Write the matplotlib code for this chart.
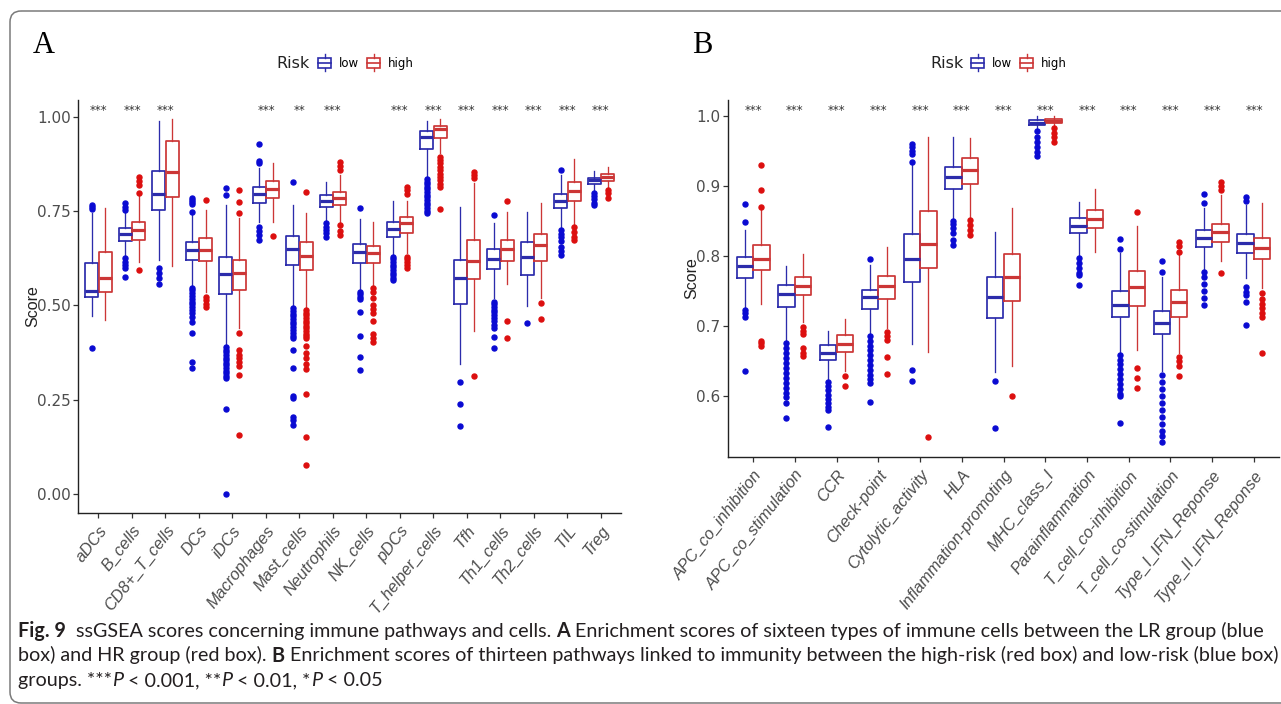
import matplotlib
matplotlib.use("Agg")
import matplotlib.pyplot as plt
from matplotlib.patches import Rectangle, FancyBboxPatch
from matplotlib.lines import Line2D
from matplotlib.legend_handler import HandlerBase

# ---------------- data ----------------
cats_A = ["aDCs", "B_cells", "CD8+_T_cells", "DCs", "iDCs", "Macrophages", "Mast_cells",
          "Neutrophils", "NK_cells", "pDCs", "T_helper_cells", "Tfh", "Th1_cells",
          "Th2_cells", "TIL", "Treg"]
sig_A = ["***", "***", "***", "", "", "***", "**", "***", "", "***", "***", "***", "***",
         "***", "***", "***"]

A_low_whislo = [0.473, 0.631, 0.620, 0.554, 0.395, 0.722, 0.496, 0.722, 0.543, 0.633, 0.838, 0.346, 0.519, 0.499, 0.706, 0.806]
A_low_q1     = [0.521, 0.671, 0.753, 0.620, 0.531, 0.770, 0.607, 0.760, 0.611, 0.682, 0.913, 0.503, 0.596, 0.580, 0.757, 0.822]
A_low_med    = [0.539, 0.688, 0.794, 0.646, 0.582, 0.794, 0.650, 0.776, 0.642, 0.702, 0.945, 0.572, 0.622, 0.628, 0.776, 0.831]
A_low_q3     = [0.611, 0.704, 0.856, 0.669, 0.629, 0.814, 0.685, 0.792, 0.662, 0.722, 0.962, 0.620, 0.649, 0.667, 0.795, 0.838]
A_low_whishi = [0.745, 0.748, 0.988, 0.739, 0.766, 0.863, 0.766, 0.826, 0.729, 0.776, 0.989, 0.761, 0.717, 0.748, 0.845, 0.856]
A_low_out = [
    [0.765, 0.760, 0.755, 0.388],
    [0.770, 0.761, 0.753, 0.626, 0.616, 0.607, 0.598, 0.576],
    [0.598, 0.585, 0.572, 0.558],
    [0.784, 0.778, 0.773, 0.768, 0.748, 0.547, 0.540, 0.532, 0.525, 0.518, 0.510, 0.503, 0.496, 0.488, 0.480, 0.470, 0.457, 0.426, 0.351, 0.333],
    [0.812, 0.792, 0.390, 0.383, 0.376, 0.369, 0.362, 0.355, 0.348, 0.341, 0.334, 0.327, 0.320, 0.313, 0.307, 0.225, 0.000],
    [0.927, 0.882, 0.876, 0.708, 0.697, 0.686, 0.673],
    [0.826, 0.492, 0.485, 0.478, 0.471, 0.464, 0.457, 0.450, 0.443, 0.436, 0.428, 0.420, 0.413, 0.382, 0.333, 0.260, 0.256, 0.205, 0.196, 0.183],
    [0.717, 0.708, 0.700, 0.691, 0.682],
    [0.757, 0.536, 0.530, 0.523, 0.517, 0.483, 0.420, 0.364, 0.330],
    [0.629, 0.622, 0.615, 0.608, 0.601, 0.594, 0.587, 0.580, 0.573, 0.567],
    [0.835, 0.828, 0.821, 0.814, 0.807, 0.800, 0.793, 0.786, 0.779, 0.772, 0.765, 0.758, 0.751, 0.744],
    [0.296, 0.239, 0.181],
    [0.739, 0.510, 0.503, 0.496, 0.489, 0.482, 0.475, 0.466, 0.458, 0.447, 0.439, 0.417, 0.386],
    [0.454],
    [0.859, 0.700, 0.690, 0.680, 0.670, 0.655, 0.645, 0.633],
    [0.799, 0.790, 0.781, 0.772, 0.766],
]

A_high_whislo = [0.461, 0.616, 0.605, 0.536, 0.439, 0.722, 0.492, 0.722, 0.552, 0.638, 0.903, 0.432, 0.557, 0.519, 0.713, 0.810]
A_high_q1     = [0.536, 0.672, 0.786, 0.618, 0.542, 0.785, 0.594, 0.766, 0.612, 0.693, 0.944, 0.569, 0.618, 0.617, 0.777, 0.830]
A_high_med    = [0.572, 0.700, 0.852, 0.648, 0.587, 0.807, 0.631, 0.785, 0.640, 0.717, 0.966, 0.617, 0.649, 0.660, 0.804, 0.840]
A_high_q3     = [0.642, 0.720, 0.935, 0.679, 0.620, 0.830, 0.667, 0.801, 0.658, 0.733, 0.976, 0.673, 0.673, 0.689, 0.828, 0.847]
A_high_whishi = [0.757, 0.792, 0.994, 0.753, 0.731, 0.876, 0.744, 0.845, 0.722, 0.776, 0.994, 0.823, 0.748, 0.770, 0.887, 0.867]
A_high_out = [
    [],
    [0.841, 0.830, 0.819, 0.797, 0.594],
    [],
    [0.779, 0.523, 0.514, 0.505, 0.496],
    [0.806, 0.773, 0.744, 0.426, 0.382, 0.368, 0.360, 0.351, 0.340, 0.317, 0.156],
    [0.684],
    [0.801, 0.488, 0.481, 0.474, 0.467, 0.460, 0.453, 0.446, 0.439, 0.432, 0.425, 0.418, 0.413, 0.393, 0.373, 0.360, 0.346, 0.331, 0.265, 0.152, 0.077],
    [0.881, 0.870, 0.859, 0.713, 0.697, 0.686],
    [0.547, 0.535, 0.520, 0.500, 0.490, 0.480, 0.460, 0.423, 0.413, 0.402],
    [0.814, 0.806, 0.794, 0.629, 0.622, 0.615, 0.608, 0.598],
    [0.894, 0.885, 0.876, 0.867, 0.858, 0.849, 0.840, 0.831, 0.822, 0.814, 0.755],
    [0.852, 0.845, 0.838, 0.313],
    [0.777, 0.458, 0.415],
    [0.507, 0.463],
    [0.708, 0.695, 0.682, 0.673],
    [0.806, 0.797, 0.785],
]

cats_B = ["APC_co_inhibition", "APC_co_stimulation", "CCR", "Check-point", "Cytolytic_activity",
          "HLA", "Inflammation-promoting", "MHC_class_I", "Parainflammation",
          "T_cell_co-inhibition", "T_cell_co-stimulation", "Type_I_IFN_Reponse",
          "Type_II_IFN_Reponse"]
sig_B = ["***"] * 13

B_low_whislo = [0.726, 0.679, 0.623, 0.689, 0.674, 0.852, 0.634, 0.982, 0.801, 0.661, 0.636, 0.780, 0.768]
B_low_q1     = [0.769, 0.727, 0.651, 0.724, 0.762, 0.896, 0.711, 0.987, 0.832, 0.713, 0.688, 0.813, 0.804]
B_low_med    = [0.786, 0.746, 0.661, 0.742, 0.796, 0.913, 0.741, 0.990, 0.843, 0.730, 0.704, 0.826, 0.818]
B_low_q3     = [0.798, 0.758, 0.673, 0.752, 0.831, 0.927, 0.770, 0.994, 0.854, 0.750, 0.721, 0.837, 0.831]
B_low_whishi = [0.837, 0.786, 0.693, 0.787, 0.930, 0.969, 0.834, 0.999, 0.877, 0.804, 0.770, 0.868, 0.873]
B_low_out = [
    [0.874, 0.848, 0.723, 0.718, 0.713, 0.636],
    [0.675, 0.668, 0.661, 0.654, 0.647, 0.640, 0.633, 0.626, 0.619, 0.612, 0.605, 0.598, 0.590, 0.568],
    [0.620, 0.614, 0.608, 0.602, 0.596, 0.590, 0.585, 0.580, 0.556],
    [0.796, 0.686, 0.679, 0.672, 0.665, 0.658, 0.651, 0.644, 0.637, 0.630, 0.624, 0.618, 0.591],
    [0.960, 0.955, 0.950, 0.945, 0.934, 0.637, 0.622],
    [0.850, 0.845, 0.840, 0.832, 0.823, 0.816],
    [0.621, 0.554],
    [0.978, 0.970, 0.962, 0.955, 0.948, 0.943],
    [0.797, 0.790, 0.783, 0.776, 0.773, 0.759],
    [0.824, 0.810, 0.659, 0.652, 0.645, 0.638, 0.631, 0.624, 0.617, 0.610, 0.603, 0.600, 0.562],
    [0.793, 0.777, 0.630, 0.620, 0.610, 0.600, 0.590, 0.580, 0.570, 0.560, 0.550, 0.543, 0.535],
    [0.888, 0.875, 0.777, 0.770, 0.760, 0.750, 0.740, 0.730],
    [0.884, 0.878, 0.756, 0.749, 0.744, 0.734, 0.702],
]

B_high_whislo = [0.732, 0.706, 0.635, 0.697, 0.663, 0.854, 0.643, 0.986, 0.806, 0.666, 0.661, 0.792, 0.754]
B_high_q1     = [0.780, 0.744, 0.663, 0.739, 0.782, 0.903, 0.735, 0.989, 0.840, 0.729, 0.713, 0.820, 0.796]
B_high_med    = [0.796, 0.757, 0.674, 0.757, 0.817, 0.922, 0.770, 0.993, 0.853, 0.756, 0.734, 0.834, 0.811]
B_high_q3     = [0.816, 0.770, 0.687, 0.771, 0.864, 0.939, 0.802, 0.995, 0.866, 0.778, 0.751, 0.846, 0.826]
B_high_whishi = [0.865, 0.802, 0.710, 0.813, 0.970, 0.968, 0.868, 0.999, 0.895, 0.842, 0.802, 0.887, 0.875]
B_high_out = [
    [0.930, 0.894, 0.870, 0.679, 0.675, 0.672],
    [0.698, 0.693, 0.689, 0.668, 0.662, 0.657],
    [0.628, 0.615],
    [0.692, 0.686, 0.680, 0.655, 0.631],
    [0.542],
    [0.851, 0.844, 0.837, 0.830],
    [0.600],
    [0.982, 0.976, 0.970, 0.963],
    [],
    [0.862, 0.640, 0.626, 0.612],
    [0.820, 0.814, 0.806, 0.656, 0.650, 0.643, 0.628],
    [0.905, 0.900, 0.894, 0.776],
    [0.747, 0.739, 0.732, 0.725, 0.718, 0.713, 0.662],
]

A_yticks = [0.00, 0.25, 0.50, 0.75, 1.00]
A_yticklabels = ["0.00", "0.25", "0.50", "0.75", "1.00"]
B_yticks = [0.6, 0.7, 0.8, 0.9, 1.0]
B_yticklabels = ["0.6", "0.7", "0.8", "0.9", "1.0"]

group_names = ["low", "high"]

# ---------------- style ----------------
W, H = 1281, 704
LOW_C, HIGH_C = "#2c2cab", "#cc3636"
LOW_F, HIGH_F = "#0a0ad2", "#dc0f0f"
TXT = "#4d4d4d"
NARROW = ["Liberation Sans Narrow", "DejaVu Sans"]
SANS = ["Liberation Sans", "DejaVu Sans"]

fig = plt.figure(figsize=(W / 100, H / 100), dpi=100)
fig.patch.set_facecolor("white")

# overlay in pixel units for the outer rounded frame
bg = fig.add_axes([0, 0, 1, 1], zorder=-5)
bg.set_xlim(0, W)
bg.set_ylim(H, 0)
bg.axis("off")
bg.add_patch(FancyBboxPatch((10, 11), 1320, 692, boxstyle="round,pad=0,rounding_size=11",
                            fc="none", ec="#7a7a7a", lw=1.1))


def px_rect(l, t, r, b):
    return [l / W, 1 - b / H, (r - l) / W, (b - t) / H]


def stats(wl, q1, md, q3, wh, out):
    return [dict(whislo=a, q1=b, med=c, q3=d, whishi=e, fliers=f)
            for a, b, c, d, e, f in zip(wl, q1, md, q3, wh, out)]


def draw_panel(ax, cats, sig, low, high, ylim, yticks, yticklabels, sig_y):
    n = len(cats)
    pos = list(range(1, n + 1))
    for st, c, fc, off in ((low, LOW_C, LOW_F, -0.2), (high, HIGH_C, HIGH_F, 0.2)):
        ax.bxp(st, positions=[p + off for p in pos], widths=0.39, showcaps=False,
               boxprops=dict(color=c, lw=1.25),
               whiskerprops=dict(color=c, lw=0.95),
               medianprops=dict(color=c, lw=2.3, solid_capstyle="butt"),
               flierprops=dict(marker="o", markerfacecolor=fc, markeredgecolor=fc,
                               markersize=3.6, linestyle="none"),
               manage_ticks=False)
    for p, s in zip(pos, sig):
        if s:
            ax.text(p, sig_y, s, ha="center", va="baseline", fontsize=8.5,
                    family=NARROW, color="#333333")
    ax.set_xlim(0.4, n + 0.6)
    ax.set_ylim(*ylim)
    ax.set_yticks(yticks)
    ax.set_yticklabels(yticklabels, family=NARROW, fontsize=11, color=TXT)
    ax.set_xticks(pos)
    ax.set_xticklabels(cats, rotation=52, ha="right", va="top", rotation_mode="anchor",
                       family=SANS, fontstyle="italic", fontsize=11.8, color=TXT)
    for s in ("top", "right"):
        ax.spines[s].set_visible(False)
    for s in ("left", "bottom"):
        ax.spines[s].set_color("#222222")
        ax.spines[s].set_linewidth(1.0)
    ax.tick_params(axis="both", length=3.5, width=0.9, color="#333333", pad=2)
    ax.tick_params(axis="x", pad=4)
    ax.set_ylabel("Score", family=SANS, fontsize=11.5, color="#222222")


axA = fig.add_axes(px_rect(78.4, 100, 621, 512.7))
draw_panel(axA, cats_A, sig_A,
           stats(A_low_whislo, A_low_q1, A_low_med, A_low_q3, A_low_whishi, A_low_out),
           stats(A_high_whislo, A_high_q1, A_high_med, A_high_q3, A_high_whishi, A_high_out),
           (-0.049, 1.044), A_yticks, A_yticklabels, 1.008)
axA.yaxis.set_label_coords(-0.071, 0.5)

axB = fig.add_axes(px_rect(728, 100, 1279, 457))
draw_panel(axB, cats_B, sig_B,
           stats(B_low_whislo, B_low_q1, B_low_med, B_low_q3, B_low_whishi, B_low_out),
           stats(B_high_whislo, B_high_q1, B_high_med, B_high_q3, B_high_whishi, B_high_out),
           (0.513, 1.0224), B_yticks, B_yticklabels, 1.003)
axB.yaxis.set_label_coords(-0.053, 0.5)


# ---------------- legends ----------------
class BoxKey(HandlerBase):
    def create_artists(self, legend, orig_handle, xdescent, ydescent, width, height,
                       fontsize, trans):
        c = orig_handle.get_color()
        x0, y0 = -xdescent, -ydescent
        bx, bw = x0 + width * 0.1, width * 0.8
        by, bh = y0 + height * 0.1, height * 0.8
        xm = x0 + width / 2
        return [
            Rectangle((bx, by), bw, bh, fill=False, ec=c, lw=1.2, transform=trans),
            Line2D([bx, bx + bw], [by + bh / 2] * 2, color=c, lw=1.2, transform=trans),
            Line2D([xm, xm], [by + bh, y0 + height * 1.15], color=c, lw=1.0, transform=trans),
            Line2D([xm, xm], [y0 - height * 0.15, by], color=c, lw=1.0, transform=trans),
        ]


def add_legend(x_risk, x_leg, y):
    fig.text(x_risk / W, 1 - y / H, "Risk", ha="right", va="center", family=NARROW,
             fontsize=11.5, color="#222222")
    handles = [Line2D([], [], color=LOW_C), Line2D([], [], color=HIGH_C)]
    fig.legend(handles, group_names, handler_map={Line2D: BoxKey()},
               loc="center left", bbox_to_anchor=(x_leg / W, 1 - y / H), ncol=2,
               frameon=False, borderpad=0, borderaxespad=0, handlelength=1.45,
               handleheight=1.35, handletextpad=0.45, columnspacing=0.55,
               prop=dict(family=NARROW, size=8.5))


add_legend(310, 316, 63)
add_legend(964, 969, 63)

# panel letters
fig.text(33 / W, 1 - 53 / H, "A", family=["Liberation Serif", "DejaVu Serif"], fontsize=22,
         va="baseline", ha="left", color="black")
fig.text(692 / W, 1 - 53 / H, "B", family=["Liberation Serif", "DejaVu Serif"], fontsize=22,
         va="baseline", ha="left", color="black")

# ---------------- caption ----------------
CAP_FONT = ["Lato", "DejaVu Sans"]
CAP_C = "#231f20"
lines = [
    [("Fig. 9", "bold", "normal"),
     ("  ssGSEA scores concerning immune pathways and cells. ", "normal", "normal"),
     ("A", "bold", "normal"),
     (" Enrichment scores of sixteen types of immune cells between the LR group (blue", "normal", "normal")],
    [("box) and HR group (red box). ", "normal", "normal"),
     ("B", "bold", "normal"),
     (" Enrichment scores of thirteen pathways linked to immunity between the high-risk (red box) and low-risk (blue box)", "normal", "normal")],
    [("groups. ***", "normal", "normal"), ("P", "normal", "italic"),
     (" < 0.001, **", "normal", "normal"), ("P", "normal", "italic"),
     (" < 0.01, *", "normal", "normal"), ("P", "normal", "italic"),
     (" < 0.05", "normal", "normal")],
]
baselines = [637, 661.5, 686]
renderer = fig.canvas.get_renderer()


def piece_width(txt, weight, style, size):
    def w(s):
        t = fig.text(0, 0, s, family=CAP_FONT, fontsize=size, fontweight=weight, fontstyle=style)
        bb = t.get_window_extent(renderer)
        t.remove()
        return bb.width
    return w("|" + txt + "|") - w("||")


base = 12.0
w1 = sum(piece_width(t, wt, st, base) for t, wt, st in lines[0])
size = base * (1262 - 18) / w1

for line, yb in zip(lines, baselines):
    x = 18.0
    for txt, wt, st in line:
        fig.text(x / W, 1 - yb / H, txt, family=CAP_FONT, fontsize=size, fontweight=wt,
                 fontstyle=st, va="baseline", ha="left", color=CAP_C)
        x += piece_width(txt, wt, st, size)

fig.savefig("out.png", dpi=100, facecolor="white")
